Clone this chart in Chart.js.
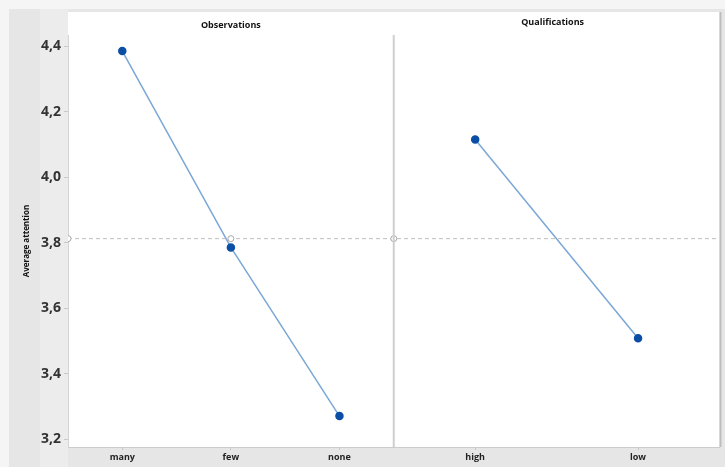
<!DOCTYPE html>
<html>
<head>
<meta charset="utf-8">
<script src="https://cdn.jsdelivr.net/npm/chart.js@4"></script>
<style>
  html, body { margin: 0; padding: 0; background: #e8e8e8; }
  #wrap { width: 725px; height: 467px; position: relative; }
</style>
</head>
<body>
<div id="wrap"><canvas id="chartMain" width="725" height="467"></canvas></div>
<script>
// Datos
const obsLevels = ['many', 'few', 'none'];
const obsMeans = [4.385, 3.785, 3.27];
const qualLevels = ['high', 'low'];
const qualMeans = [4.115, 3.508];
const grandMean = 3.812;
const yTicks = [3.2, 3.4, 3.6, 3.8, 4.0, 4.2, 4.4];
const panelTitles = ['Observations', 'Qualifications'];

// posiciones en el eje x lineal: panel izq 0..3, panel der 3..6
const obsX = obsLevels.map((_, i) => i + 0.5);
const qualX = qualLevels.map((_, i) => 3 + 1.5 * i + 0.75);
const tickPos = obsX.concat(qualX);
const tickNames = obsLevels.concat(qualLevels);

const fmt = v => v.toFixed(1).replace('.', ',');

// fondo, paneles y titulos
const panelPlugin = {
  id: 'panelPlugin',
  beforeDraw(chart) {
    const ctx = chart.ctx;
    const a = chart.chartArea;
    ctx.save();
    ctx.fillStyle = '#e6e6e6';
    ctx.fillRect(0, 0, chart.width, chart.height);
    ctx.fillStyle = '#f5f5f5';
    ctx.fillRect(0, 0, chart.width, 9);
    ctx.fillRect(0, 0, 9, chart.height);
    ctx.fillStyle = '#ececec';
    ctx.fillRect(40, 9, a.left - 40, chart.height - 9);
    ctx.fillStyle = '#ffffff';
    ctx.fillRect(a.left, 12, a.right - a.left, a.bottom - 12);
    ctx.fillStyle = '#bdbdbd';
    ctx.fillRect(a.right, 12, 2, a.bottom - 12);
    ctx.restore();
  },
  afterDatasetsDraw(chart) {
    const ctx = chart.ctx;
    const a = chart.chartArea;
    const xs = chart.scales.x;
    const xd = xs.getPixelForValue(3);
    ctx.save();
    ctx.strokeStyle = '#cfcfcf';
    ctx.lineWidth = 2;
    ctx.beginPath();
    ctx.moveTo(xd, a.top);
    ctx.lineTo(xd, a.bottom);
    ctx.stroke();
    ctx.fillStyle = '#111';
    ctx.font = 'bold 9px "Open Sans", sans-serif';
    ctx.textAlign = 'center';
    ctx.textBaseline = 'middle';
    ctx.fillText(panelTitles[0], (a.left + xd) / 2, 25);
    ctx.fillText(panelTitles[1], (xd + a.right) / 2 - 4, 22);
    ctx.restore();
  }
};

new Chart(document.getElementById('chartMain'), {
  type: 'scatter',
  data: {
    datasets: [
      {
        label: 'mean',
        data: [0, 1.5, 3, 6].map(x => ({ x: x, y: grandMean })),
        showLine: true,
        borderColor: '#bdbdbd',
        borderWidth: 1,
        borderDash: [4, 3],
        pointRadius: [3, 3, 3, 0],
        pointBackgroundColor: '#ffffff',
        pointBorderColor: '#a8a8a8',
        pointBorderWidth: 1
      },
      {
        label: 'Observations',
        data: obsX.map((x, i) => ({ x: x, y: obsMeans[i] })),
        showLine: true,
        borderColor: '#7ba7d7',
        borderWidth: 1.5,
        pointRadius: 3.5,
        pointBackgroundColor: '#0b4ea6',
        pointBorderColor: '#0b4ea6'
      },
      {
        label: 'Qualifications',
        data: qualX.map((x, i) => ({ x: x, y: qualMeans[i] })),
        showLine: true,
        borderColor: '#7ba7d7',
        borderWidth: 1.5,
        pointRadius: 3.5,
        pointBackgroundColor: '#0b4ea6',
        pointBorderColor: '#0b4ea6'
      }
    ]
  },
  options: {
    responsive: false,
    animation: false,
    layout: { padding: { top: 35, right: 1, bottom: 0, left: 0 } },
    plugins: {
      legend: { display: false },
      tooltip: { enabled: false }
    },
    scales: {
      x: {
        type: 'linear',
        min: 0,
        max: 6,
        afterBuildTicks: axis => { axis.ticks = tickPos.map(v => ({ value: v })); },
        afterFit: axis => { axis.height = 20; },
        grid: { drawOnChartArea: false, tickLength: 3, color: '#c8c8c8' },
        border: { color: '#cccccc', width: 1 },
        ticks: {
          padding: 2,
          color: '#222',
          font: { family: '"Open Sans", sans-serif', size: 9, weight: 'bold' },
          callback: v => tickNames[tickPos.indexOf(v)] || ''
        }
      },
      y: {
        min: 3.1756,
        max: 4.434,
        afterBuildTicks: axis => { axis.ticks = yTicks.map(v => ({ value: v })); },
        afterFit: axis => { axis.width = 68; },
        grid: { drawOnChartArea: false, tickLength: 4, color: '#c8c8c8' },
        border: { color: '#d4d4d4', width: 1 },
        ticks: {
          padding: 3,
          color: '#333',
          font: { family: '"Open Sans", sans-serif', size: 14, weight: 'bold' },
          callback: v => fmt(v)
        },
        title: {
          display: true,
          text: 'Average attention',
          color: '#111',
          padding: { top: 22, bottom: 0 },
          font: { family: '"Open Sans", sans-serif', size: 8, weight: 'bold' }
        }
      }
    }
  },
  plugins: [panelPlugin]
});
</script>
</body>
</html>
